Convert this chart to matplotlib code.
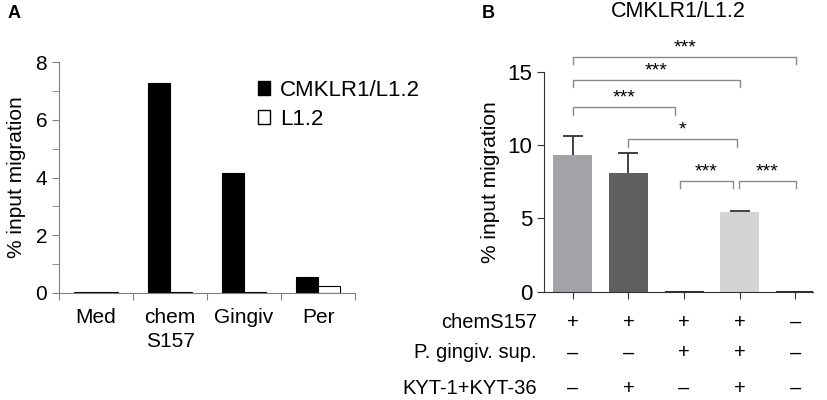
import matplotlib
matplotlib.use("Agg")
from matplotlib import pyplot as plt
from matplotlib.patches import Patch
from matplotlib.transforms import blended_transform_factory
import numpy as np

plt.rcParams['font.family'] = ['Liberation Sans', 'DejaVu Sans']

# panel A data
cats_a = ['Med', 'chem\nS157', 'Gingiv', 'Per']
cmklr = [0.05, 7.28, 4.15, 0.55]
l12 = [0.03, 0.03, 0.05, 0.25]

# panel B data
vals_b = [9.32, 8.07, 0.06, 5.45, 0.06]
err_b = [1.28, 1.36, 0.0, 0.07, 0.0]
colors_b = ['#a2a2a7', '#5f5f5f', '#2a2a2a', '#d4d4d4', '#2a2a2a']
row_names = ['chemS157', 'P. gingiv. sup.', 'KYT-1+KYT-36']
rows = [['+', '+', '+', '+', '–'],
        ['–', '–', '+', '+', '–'],
        ['–', '+', '–', '+', '–']]
br_left = [0, 0, 0, 1, 1.92, 2.98]
br_right = [4.02, 3.0, 1.84, 2.96, 2.88, 4.02]
br_y = [16.0, 14.43, 12.57, 10.39, 7.55, 7.55]
br_txt = ['***', '***', '***', '*', '***', '***']

fig = plt.figure(figsize=(8.27, 4.0), dpi=100)

# ---- panel A
ax = fig.add_axes([59/827, 1-293/400, 296/827, 231/400])
x = np.arange(len(cats_a))
ax.bar(x + 0.2, cmklr, width=0.3, align='edge', color='black', edgecolor='black', linewidth=0.8)
ax.bar(x + 0.5, l12, width=0.3, align='edge', color='white', edgecolor='black', linewidth=0.8)
ax.set_xlim(0, 4)
ax.set_ylim(0, 8)
ax.set_yticks([0, 2, 4, 6, 8])
ax.set_yticks([1, 3, 5, 7], minor=True)
ax.set_xticks([0, 1, 2, 3, 4])
ax.set_xticklabels([])
ax.set_xticks(x + 0.5, minor=True)
ax.set_xticklabels(cats_a, minor=True, fontsize=15, va='top', linespacing=1.3)
ax.tick_params(axis='x', which='minor', length=0, pad=11)
ax.tick_params(axis='both', which='both', colors='#808080', labelcolor='black', direction='out')
ax.tick_params(axis='y', labelsize=15, length=5)
ax.tick_params(axis='y', which='minor', length=5)
ax.tick_params(axis='x', which='major', length=5)
for s in ['top', 'right']:
    ax.spines[s].set_visible(False)
for s in ['left', 'bottom']:
    ax.spines[s].set_color('#808080')
ax.set_ylabel('% input migration', fontsize=15, labelpad=7)
handles = [Patch(facecolor='black', edgecolor='black'),
           Patch(facecolor='white', edgecolor='black')]
fig.legend(handles, ['CMKLR1/L1.2', 'L1.2'], loc='upper left',
           bbox_to_anchor=(238/827, 1-60/400), frameon=False, fontsize=16,
           handlelength=0.55, handleheight=0.55, handletextpad=0.45, labelspacing=0.36)
fig.text(8/827, 1-14/400, 'A', fontsize=13, fontweight='bold', va='center')

# ---- panel B
bx = fig.add_axes([544/827, 1-291.7/400, 269/827, 220/400])
xb = np.arange(len(vals_b))
bx.bar(xb, vals_b, width=0.7, color=colors_b)
has_err = np.array(err_b) > 0
eb = bx.errorbar(xb[has_err], np.array(vals_b)[has_err],
                 yerr=[np.zeros(has_err.sum()), np.array(err_b)[has_err]], fmt='none',
                 ecolor='#333333', elinewidth=1.3, capsize=7, capthick=1.3)
eb[1][0].set_visible(False)  # no cap at the bar top
bx.set_xlim(-0.52, 4.32)
bx.set_ylim(0, 15)
bx.set_yticks([0, 5, 10, 15])
bx.set_xticks(xb)
bx.set_xticklabels([])
bx.tick_params(axis='both', colors='#333333', labelcolor='black', direction='out')
bx.tick_params(axis='y', labelsize=16, length=5)
bx.tick_params(axis='x', length=5)
for s in ['top', 'right']:
    bx.spines[s].set_visible(False)
for s in ['left', 'bottom']:
    bx.spines[s].set_color('#333333')
bx.set_ylabel('% input migration', fontsize=15, labelpad=5)
bx.set_title('CMKLR1/L1.2', fontsize=15.5, pad=0, y=1 + (71.7-12)/220, va='center')
fig.text(482/827, 1-14/400, 'B', fontsize=13, fontweight='bold', va='center')

for l, r, y, t in zip(br_left, br_right, br_y, br_txt):
    bx.plot([l, l, r, r], [y - 0.5, y, y, y - 0.5], color='#8a8a8a', lw=1, clip_on=False)
    bx.text((l + r) / 2, y + 0.62, t, ha='center', va='center', fontsize=14, clip_on=False)

trans = blended_transform_factory(bx.transData, fig.transFigure)
row_y = [1-322/400, 1-353/400, 1-388/400]
for name, syms, yy in zip(row_names, rows, row_y):
    fig.text(537/827, yy, name, ha='right', va='center', fontsize=14.5)
    for xi, sym in zip(xb, syms):
        bx.text(xi, yy, sym, transform=trans, ha='center', va='center', fontsize=14.5)

fig.savefig('out.png', dpi=100)
